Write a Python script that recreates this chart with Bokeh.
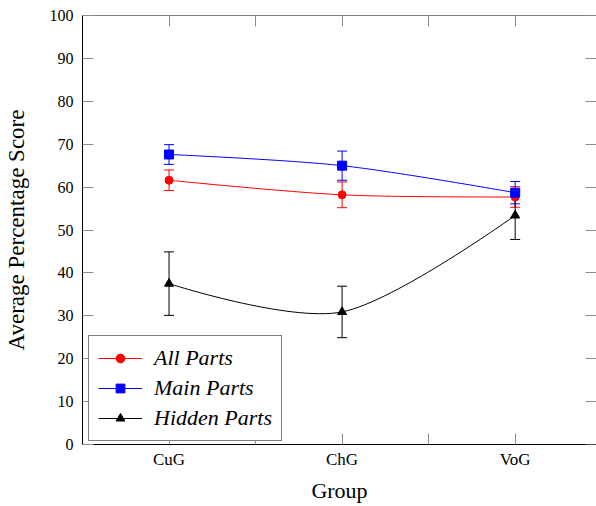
from bokeh.plotting import figure
from bokeh.models import (ColumnDataSource, Whisker, TeeHead, FixedTicker, LinearAxis,
                          Legend, LegendItem, Range1d, CustomLabelingPolicy)
from bokeh.embed import file_html
from bokeh.resources import INLINE

# ---- data ----
groups = ["CuG", "ChG", "VoG"]
group_pos = [1, 2, 3]
half_ticks = [1.5, 2.5]
y_ticks = [0, 10, 20, 30, 40, 50, 60, 70, 80, 90, 100]

all_mean = [61.6, 58.2, 57.7]
all_err = [2.4, 3.0, 2.4]
main_mean = [67.6, 65.0, 58.7]
main_err = [2.3, 3.4, 2.6]
hidden_mean = [37.5, 30.9, 53.4]
hidden_err = [7.4, 6.0, 5.6]

FONT = "Liberation Serif"
TICK_COL = "#8c8c8c"
TICK_LEN = 11
X_START, X_END = 0.5, 3.47
Y_START, Y_END = 0, 100


def smooth_segments(xs, ys, tension=0.55):
    """pgfplots-style 'smooth' curve: Bezier control points derived from the data points."""
    k = 0.2775 * tension
    n = len(xs)
    tx = [0.0] * n
    ty = [0.0] * n
    for i in range(1, n - 1):
        tx[i] = k * (xs[i + 1] - xs[i - 1])
        ty[i] = k * (ys[i + 1] - ys[i - 1])
    d = dict(x0=[], y0=[], x1=[], y1=[], cx0=[], cy0=[], cx1=[], cy1=[])
    for i in range(n - 1):
        d["x0"].append(xs[i]); d["y0"].append(ys[i])
        d["x1"].append(xs[i + 1]); d["y1"].append(ys[i + 1])
        d["cx0"].append(xs[i] + tx[i]); d["cy0"].append(ys[i] + ty[i])
        d["cx1"].append(xs[i + 1] - tx[i + 1]); d["cy1"].append(ys[i + 1] - ty[i + 1])
    return ColumnDataSource(d)


p = figure(width=596, height=506, output_backend="svg", toolbar_location=None,
           x_range=Range1d(X_START, X_END), y_range=Range1d(Y_START, Y_END),
           min_border_left=82, min_border_right=0, min_border_top=15, min_border_bottom=62,
           x_axis_location=None, y_axis_location=None)
p.outline_line_color = None
p.xgrid.visible = False
p.ygrid.visible = False
p.background_fill_color = "white"
p.border_fill_color = "white"

xticker = FixedTicker(ticks=group_pos, minor_ticks=half_ticks)
yticker = FixedTicker(ticks=y_ticks, minor_ticks=[])

hide_all = "for (const i of indices) { indices.unset(i) }\nreturn indices"


def style_axis(ax, show_labels):
    ax.major_tick_in = TICK_LEN
    ax.major_tick_out = 0
    ax.minor_tick_in = TICK_LEN
    ax.minor_tick_out = 0
    ax.major_tick_line_color = TICK_COL
    ax.minor_tick_line_color = TICK_COL
    ax.axis_line_color = "black"
    ax.axis_line_width = 1
    ax.major_label_text_font = FONT
    ax.axis_label_text_font = FONT
    ax.axis_label_text_font_style = "normal"
    ax.axis_label_text_color = "black"
    ax.major_label_text_color = "black"
    if not show_labels:
        ax.major_label_text_font_size = "1px"
        ax.major_label_standoff = 0
        ax.major_label_policy = CustomLabelingPolicy(code=hide_all)


xb = LinearAxis(ticker=xticker, axis_label="Group")
style_axis(xb, True)
xb.major_label_overrides = {1: "CuG", 2: "ChG", 3: "VoG"}
xb.major_label_text_font_size = "17px"
xb.major_label_standoff = 5
xb.axis_label_text_font_size = "22px"
xb.axis_label_standoff = 6
p.add_layout(xb, "below")

xt = LinearAxis(ticker=xticker, fixed_location=Y_END)
style_axis(xt, False)
p.add_layout(xt, "above")

yl = LinearAxis(ticker=yticker, axis_label="Average Percentage Score")
style_axis(yl, True)
yl.major_label_text_font_size = "16px"
yl.major_label_standoff = 9
yl.axis_label_text_font_size = "23px"
yl.axis_label_standoff = 18
p.add_layout(yl, "left")

yr = LinearAxis(ticker=yticker, fixed_location=X_END)
style_axis(yr, False)
yr.axis_line_color = None
p.add_layout(yr, "right")

series = [
    ("All Parts", all_mean, all_err, "red", "circle", 8),
    ("Main Parts", main_mean, main_err, "blue", "square", 9),
    ("Hidden Parts", hidden_mean, hidden_err, "black", "triangle", 9),
]

items = []
for label, mean, err, col, marker, size in series:
    src = ColumnDataSource(dict(
        x=group_pos, y=mean,
        upper=[m + e for m, e in zip(mean, err)],
        lower=[m - e for m, e in zip(mean, err)],
    ))
    curve = p.bezier(x0="x0", y0="y0", x1="x1", y1="y1", cx0="cx0", cy0="cy0",
                     cx1="cx1", cy1="cy1", source=smooth_segments(group_pos, mean),
                     line_color=col, line_width=1)
    wh = Whisker(source=src, base="x", upper="upper", lower="lower", dimension="height",
                 line_color=col, line_width=1,
                 upper_head=TeeHead(size=10, line_color=col, line_width=1),
                 lower_head=TeeHead(size=10, line_color=col, line_width=1))
    p.add_layout(wh)
    pts = p.scatter(x="x", y="y", source=src, marker=marker, size=size,
                    fill_color=col, line_color=col)
    items.append(LegendItem(label=label, renderers=[curve, pts]))

legend = Legend(items=items, location=(6, 3), orientation="vertical")
legend.label_text_font = FONT
legend.label_text_font_style = "italic"
legend.label_text_font_size = "22px"
legend.label_text_color = "black"
legend.border_line_color = "black"
legend.border_line_width = 1
legend.background_fill_color = "white"
legend.background_fill_alpha = 1.0
legend.padding = 9
legend.spacing = 4
legend.margin = 0
legend.glyph_width = 44
legend.glyph_height = 22
legend.label_height = 22
legend.label_standoff = 12
p.add_layout(legend, "center")

open("out.html", "w").write(file_html(p, INLINE))
